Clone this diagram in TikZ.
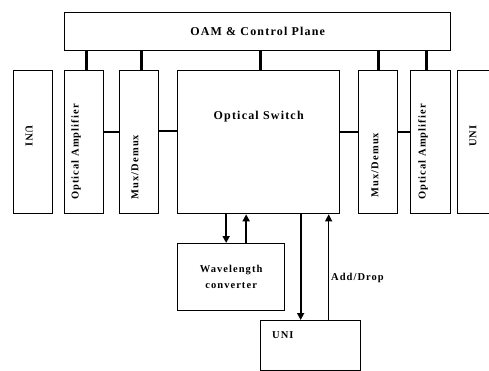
\documentclass[tikz,border=0pt]{standalone}
\usepackage{fontspec}
\setmainfont{Liberation Serif}
\newfontfamily\scanfont[LetterSpace=10]{Liberation Serif}
\usetikzlibrary{arrows.meta}
\tikzset{
  bloc/.style={draw, line width=1.3pt, anchor=north west, inner sep=0pt},
  lbl/.style={font=\scanfont\bfseries\fontsize{10.5}{12}\selectfont, inner sep=0pt},
  titre/.style={lbl, font=\scanfont\bfseries\fontsize{12}{14}\selectfont},
  vlbl/.style={lbl, rotate=90},
  bus/.style={line width=3pt},
  lien/.style={line width=1.3pt},
  fleche/.style={line width=2.2pt, -{Triangle[length=7pt,width=7pt]}},
  flechefine/.style={line width=1pt, -{Triangle[length=7pt,width=7pt]}},
}
\begin{document}
\begin{tikzpicture}[x=1pt,y=-1pt]
\useasboundingbox (0,0) rectangle (489,370);
% plan de commande
\node[bloc, minimum width=386, minimum height=38] (oam) at (64,12) {};
\node[titre] at (oam.center) {OAM \& Control Plane};
% blocs du noeud
\node[bloc, minimum width=39, minimum height=143] (uni1) at (13,70) {};
\node[bloc, minimum width=39, minimum height=143] (amp1) at (64,70) {};
\node[bloc, minimum width=39, minimum height=143] (mux1) at (119,70) {};
\node[bloc, minimum width=162, minimum height=143] (sw) at (177,70) {};
\node[bloc, minimum width=39, minimum height=143] (mux2) at (358,70) {};
\node[bloc, minimum width=40, minimum height=143] (amp2) at (410,70) {};
\node[bloc, minimum width=45, minimum height=143] (uni2) at (457,70) {};
\node[bloc, minimum width=107, minimum height=67] (wc) at (177,243) {};
\node[bloc, minimum width=100, minimum height=50] (uni3) at (260,320) {};
% textes
\node[vlbl, rotate=180] at (29,136) {UNI};
\node[vlbl] at (76,152) {Optical Amplifier};
\node[vlbl] at (135,167) {Mux/Demux};
\node[titre] at ([yshift=-47pt]sw.north) {Optical Switch};
\node[vlbl] at (375,165) {Mux/Demux};
\node[vlbl] at (423,152) {Optical Amplifier};
\node[vlbl] at (473,136) {UNI};
\node[lbl, align=center] at (wc.center) {Wavelength\\[4pt]converter};
\node[lbl, anchor=west] at ([xshift=12pt,yshift=-15pt]uni3.north west) {UNI};
% liaisons vers le plan de commande
\draw[bus] ([xshift=2pt]amp1.north) -- ([xshift=2pt]amp1.north |- oam.south);
\draw[bus] ([xshift=2pt]mux1.north) -- ([xshift=2pt]mux1.north |- oam.south);
\draw[bus] ([xshift=2pt]sw.north) -- ([xshift=2pt]sw.north |- oam.south);
\draw[bus] (mux2.north) -- (mux2.north |- oam.south);
\draw[bus] ([xshift=-4pt]amp2.north) -- ([xshift=-4pt]amp2.north |- oam.south);
% chemin optique
\draw[lien] ([yshift=-62pt]amp1.north east) -- ([yshift=-62pt]mux1.north west);
\draw[lien] ([yshift=-61pt]mux1.north east) -- ([yshift=-61pt]sw.north west);
\draw[lien] ([yshift=-62pt]sw.north east) -- ([yshift=-62pt]mux2.north west);
\draw[lien] ([yshift=-62pt]mux2.north east) -- ([yshift=-62pt]amp2.north west);
% conversion et insertion/extraction
\draw[fleche] ([xshift=-5pt]wc.north |- sw.south) -- ([xshift=-5pt]wc.north);
\draw[fleche] ([xshift=15pt]wc.north) -- ([xshift=15pt]wc.north |- sw.south);
\draw[fleche] ([xshift=-10pt]uni3.north |- sw.south) -- ([xshift=-10pt]uni3.north);
\draw[flechefine] ([xshift=18pt]uni3.north) -- ([xshift=18pt]uni3.north |- sw.south)
  node[lbl, pos=0.4, anchor=west, xshift=2pt] {Add/Drop};
\end{tikzpicture}
\end{document}
